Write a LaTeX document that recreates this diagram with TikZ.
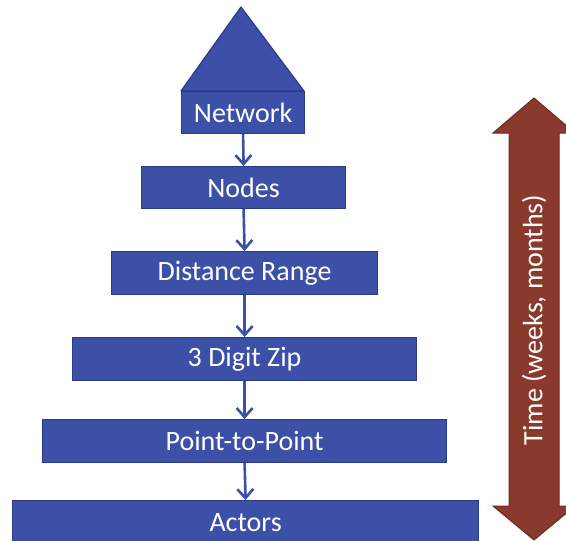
\documentclass[tikz,border=0pt]{standalone}
\usepackage{fontspec}
\setmainfont{Carlito}
\usetikzlibrary{arrows.meta}
\definecolor{boxblue}{HTML}{3B50A6}
\definecolor{boxedge}{HTML}{2A3A88}
\definecolor{timebrown}{HTML}{8A3A2C}
\definecolor{timeedge}{HTML}{6E2A20}
\begin{document}
\begin{tikzpicture}[x=1pt,y=-1pt,
  level/.style={draw=boxedge,fill=boxblue,line width=1.2pt,text=white,
    font=\fontsize{28}{30}\selectfont,inner sep=0pt,anchor=north west},
  flow/.style={draw=boxblue,line width=2.6pt,
    -{Straight Barb[length=9pt,width=16pt,line width=2.6pt]}}]
\useasboundingbox (0,0) rectangle (566,541);
\clip (0,0) rectangle (566,541);
% roof over the top level
\draw[draw=boxedge,fill=boxblue,line width=1.2pt,line join=round]
  (181,91) -- (241,7) -- (304,91) -- cycle;
% stacked levels
\node[level,minimum width=123pt,minimum height=42pt] (net) at (181,91) {Network};
\node[level,minimum width=204pt,minimum height=42pt] (nodes) at (141,166) {Nodes};
\node[level,minimum width=266pt,minimum height=43pt] (dist) at (111,251) {Distance Range};
\node[level,minimum width=344pt,minimum height=43pt] (zip) at (72,337) {3 Digit Zip};
\node[level,minimum width=404pt,minimum height=43pt] (p2p) at (42,419) {Point-to-Point};
\node[level,minimum width=466pt,minimum height=45pt] (act) at (12,500) {Actors};
% connectors
\draw[flow] (net.south) -- (nodes.north);
\draw[flow] (nodes.south) -- (dist.north);
\draw[flow] (dist.south) -- (zip.north);
\draw[flow] (zip.south) -- (p2p.north);
\draw[flow] (p2p.south) -- (act.north);
% time axis: double-headed arrow, running past the right edge
\draw[draw=timeedge,fill=timebrown,line width=1pt,line join=miter]
  (534,98) -- (575,133) -- (559,133) -- (559,506) -- (575,506)
  -- (534,540) -- (493,506) -- (509,506) -- (509,133) -- (493,133) -- cycle;
\node[rotate=90,text=white,font=\fontsize{28}{30}\selectfont] (tlabel) at (534,320) {Time (weeks, months)};
\end{tikzpicture}
\end{document}
